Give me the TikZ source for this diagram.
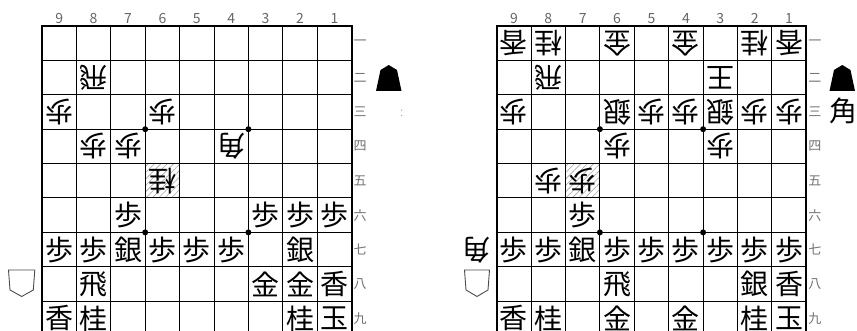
\documentclass[tikz,border=0pt]{standalone}
\usepackage{fontspec}
\newfontfamily\jp{Noto Sans CJK JP}
\usetikzlibrary{patterns.meta}
\def\cs{34.4}
\tikzset{
  piece/.style={inner sep=0pt, font=\jp\fontsize{28}{28}\selectfont},
  gote/.style={piece, rotate=180},
  colnum/.style={inner sep=0pt, text=black!60, font=\jp\fontsize{14}{14}\selectfont},
  rownum/.style={inner sep=0pt, text=black!55, font=\jp\fontsize{13}{13}\selectfont},
  gridline/.style={line width=1pt, black},
  border/.style={line width=2pt, black},
  hatch/.style={pattern={Lines[angle=45,distance=4.5pt,line width=0.6pt]}, pattern color=black!35},
  blackpc/.style={fill=black},
  whitepc/.style={draw=black!70, line width=0.9pt, fill=white},
}
\newcommand\myboard[1]{%
  \foreach \i in {1,...,8} {
    \draw[gridline] ({\i*\cs},0) -- ({\i*\cs},{9*\cs});
    \draw[gridline] (0,{\i*\cs}) -- ({9*\cs},{\i*\cs});
  }
  \draw[border] (0,0) rectangle ({9*\cs},{9*\cs});
  \foreach \px in {3,6} \foreach \py in {3,6}
    \fill ({\px*\cs},{\py*\cs}) circle[radius=3pt];
  \foreach \cc [count=\k] in {9,8,7,6,5,4,3,2,1}
    \node[colnum] (#1c\cc) at ({(\k-0.5)*\cs},-7.5) {\cc};
  \foreach \rr/\kk in {1/一,2/二,3/三,4/四,5/五,6/六,7/七,8/八,9/九}
    \node[rownum] (#1r\rr) at ({9*\cs+8.5},{(\rr-0.5)*\cs}) {\kk};
}
\begin{document}
\begin{tikzpicture}[x=1pt,y=-1pt]
\useasboundingbox (0,0) rectangle (857,331);
\clip (0,0) rectangle (857,331);
% ---------------- left board ----------------
\begin{scope}[shift={(42,26)}]
  \fill[hatch] ({3*\cs},{4*\cs}) rectangle ({4*\cs},{5*\cs});
  \myboard{L}
  \foreach \cc/\rr/\pp in {8/2/飛,9/3/歩,6/3/歩,8/4/歩,7/4/歩,4/4/角,6/5/桂}
    \node[gote] (L\cc\rr) at ({(9-\cc+0.5)*\cs},{(\rr-0.5)*\cs}) {\pp};
  \foreach \cc/\rr/\pp in {7/6/歩,3/6/歩,2/6/歩,1/6/歩,9/7/歩,8/7/歩,7/7/銀,6/7/歩,5/7/歩,4/7/歩,2/7/銀,8/8/飛,3/8/金,2/8/金,1/8/香,9/9/香,8/9/桂,2/9/桂,1/9/玉}
    \node[piece] (L\cc\rr) at ({(9-\cc+0.5)*\cs},{(\rr-0.5)*\cs}) {\pp};
\end{scope}
\fill[blackpc] (388.8,65) -- (397,70) -- (401.5,91) -- (376,91) -- (380.5,70) -- cycle;
\node[inner sep=0pt, text=black!45, font=\fontsize{15}{15}\selectfont] (Lhand) at (401.8,113) {:};
\draw[whitepc] (8.5,270) -- (34.8,270) -- (33.3,290) -- (21.7,296.5) -- (10,290) -- cycle;
% ---------------- right board ----------------
\begin{scope}[shift={(496.7,26)}]
  \fill[hatch] ({2*\cs},{4*\cs}) rectangle ({3*\cs},{5*\cs});
  \myboard{R}
  \foreach \cc/\rr/\pp in {9/1/香,8/1/桂,6/1/金,4/1/金,2/1/桂,1/1/香,8/2/飛,3/2/王,9/3/歩,6/3/銀,5/3/歩,4/3/歩,3/3/銀,2/3/歩,1/3/歩,6/4/歩,3/4/歩,8/5/歩,7/5/歩}
    \node[gote] (R\cc\rr) at ({(9-\cc+0.5)*\cs},{(\rr-0.5)*\cs}) {\pp};
  \foreach \cc/\rr/\pp in {7/6/歩,9/7/歩,8/7/歩,7/7/銀,6/7/歩,5/7/歩,4/7/歩,3/7/歩,2/7/歩,1/7/歩,6/8/飛,2/8/銀,1/8/香,9/9/香,8/9/桂,6/9/金,4/9/金,2/9/桂,1/9/玉}
    \node[piece] (R\cc\rr) at ({(9-\cc+0.5)*\cs},{(\rr-0.5)*\cs}) {\pp};
\end{scope}
\fill[blackpc] (842.3,65) -- (850.5,70) -- (855,91) -- (829.5,91) -- (834,70) -- cycle;
\node[piece] (Rhand1) at (843.5,111) {角};
\draw[whitepc] (464.5,270) -- (489.5,270) -- (488,290) -- (477,296.5) -- (466,290) -- cycle;
\node[gote] (Rhand2) at (476.5,250) {角};
\end{tikzpicture}
\end{document}
